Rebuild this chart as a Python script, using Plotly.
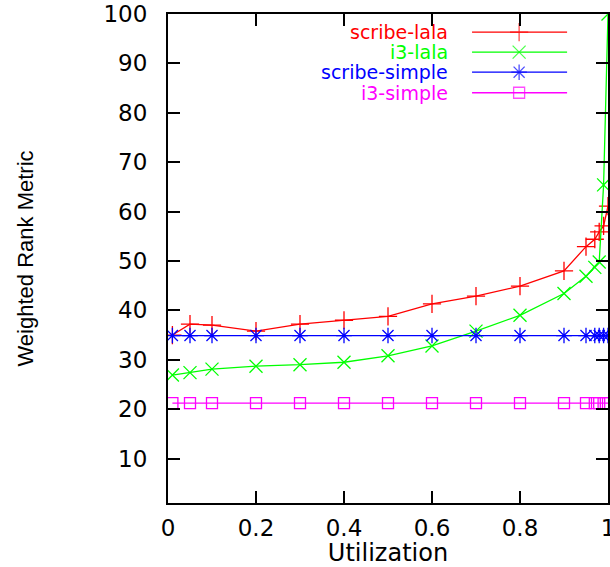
import plotly.graph_objects as go

# ---- data ----
utilization = [0.01, 0.05, 0.1, 0.2, 0.3, 0.4, 0.5, 0.6, 0.7, 0.8, 0.9, 0.95, 0.97, 0.98, 0.99, 1.0]
scribe_lala = [35.0, 37.2, 37.0, 35.8, 37.2, 38.0, 38.8, 41.3, 42.9, 44.9, 48.0, 52.9, 54.4, 55.9, 57.1, 61.1]
i3_lala = [26.9, 27.4, 28.1, 28.7, 29.0, 29.5, 30.8, 32.8, 35.8, 39.0, 43.4, 46.9, 48.7, 49.8, 65.4, 100.0]
scribe_simple = [34.9] * 16
i3_simple = [21.2] * 16

series_names = ["scribe-lala", "i3-lala", "scribe-simple", "i3-simple"]
series_values = [scribe_lala, i3_lala, scribe_simple, i3_simple]
series_colors = ["rgb(255,0,0)", "rgb(0,255,0)", "rgb(0,0,255)", "rgb(255,0,255)"]
series_symbols = ["cross-thin-open", "x-thin-open", "asterisk-open", "square-open"]
series_msize = [13, 13, 13, 11]

y_ticks = [10, 20, 30, 40, 50, 60, 70, 80, 90, 100]
x_ticks = [0, 0.2, 0.4, 0.6, 0.8, 1]
x_ticklabels = ["0", "0.2", "0.4", "0.6", "0.8", "1"]

FONT = "DejaVu Sans"

fig = go.Figure()
for name, vals, col, sym, ms in zip(series_names, series_values, series_colors, series_symbols, series_msize):
    fig.add_trace(go.Scatter(
        x=utilization, y=vals, mode="lines+markers", name=name,
        line=dict(color=col, width=1.3),
        marker=dict(symbol=sym, size=ms, color=col, line=dict(color=col, width=1.3)),
        showlegend=False,
    ))

# ---- custom gnuplot-style key: text on the left, sample on the right ----
key_rows = [0.963, 0.922, 0.881, 0.839]
key_x0, key_xm, key_x1 = 0.691, 0.798, 0.907
for name, col, sym, ms, ry in zip(series_names, series_colors, series_symbols, series_msize, key_rows):
    fig.add_trace(go.Scatter(
        x=[key_x0, key_xm, key_x1], y=[ry, ry, ry], xaxis="x2", yaxis="y2",
        mode="lines+markers", showlegend=False, hoverinfo="skip",
        line=dict(color=col, width=1.3),
        marker=dict(symbol=sym, size=[0, ms, 0], color=col, line=dict(color=col, width=1.3)),
    ))
    fig.add_annotation(
        x=0.641, y=ry, xref="x domain", yref="y domain", text=name,
        showarrow=False, xanchor="right", yanchor="middle",
        font=dict(family=FONT, size=19, color=col),
    )

axis_common = dict(
    showline=True, linecolor="black", linewidth=2, mirror="allticks",
    ticks="inside", ticklen=12, tickwidth=1.5, tickcolor="black",
    showgrid=False, zeroline=False,
    tickfont=dict(family=FONT, size=23, color="black"),
    ticklabeloverflow="allow",
)

fig.update_layout(
    width=610, height=567,
    margin=dict(l=168, r=2, t=14, b=64),
    paper_bgcolor="white", plot_bgcolor="white",
    xaxis=dict(range=[0, 1], tickvals=x_ticks, ticktext=x_ticklabels,
               title=dict(text="Utilization", font=dict(family=FONT, size=24, color="black"), standoff=6),
               automargin=False, ticklabelstandoff=3, **axis_common),
    yaxis=dict(range=[1, 100], tickvals=y_ticks,
               title=dict(text="Weighted Rank Metric",
                          font=dict(family="Liberation Sans", size=22, color="black"),
                          standoff=64),
               automargin=False, ticklabelstandoff=14, **axis_common),
    xaxis2=dict(range=[0, 1], overlaying="x", visible=False, anchor="y2"),
    yaxis2=dict(range=[0, 1], overlaying="y", visible=False, anchor="x2"),
)

fig.write_html("out.html", config={"displayModeBar": False},
               post_script="document.body.style.margin='0';document.body.style.padding='0';")
